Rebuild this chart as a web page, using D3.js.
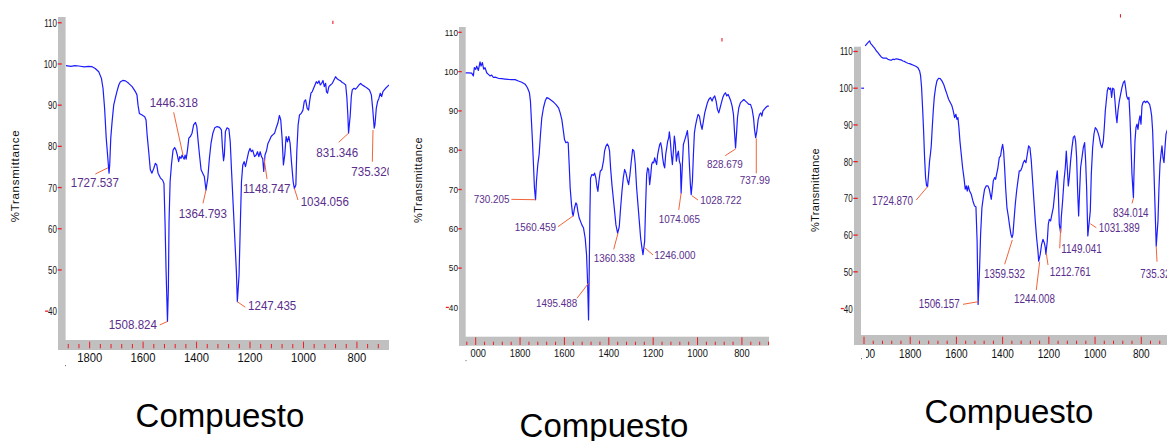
<!DOCTYPE html>
<html>
<head>
<meta charset="utf-8">
<script src="https://cdn.jsdelivr.net/npm/d3@7"></script>
<style>
  html, body { margin: 0; padding: 0; background: #ffffff; }
  svg { display: block; }
</style>
</head>
<body>
<svg id="chart" width="1167" height="441"></svg>
<script>
// ---------------------------------------------------------------
// FT-IR spectra (wavenumber cm-1, %Transmittance) of three compounds
// ---------------------------------------------------------------

const spectrumA = [
  [1888.6,99.6],[1870,99.4],[1855,99.6],[1841,99.5],[1820,99.3],[1805,99.4],[1791,99.35],[1779,98.9],
  [1766,98.1],[1756,96.5],[1750,94.1],[1744,89.2],[1738,82.0],[1727.5,73.5],[1725,75.5],[1721,82.0],
  [1716,86.0],[1710,90.0],[1704,91.7],[1698,93.3],[1691,94.9],[1685,95.7],[1676,96.0],[1666,95.9],
  [1654,95.3],[1641,94.5],[1629,93.3],[1623,92.5],[1619,90.0],[1614,88.0],[1604,87.6],[1594,87.2],
  [1589,86.4],[1585,82.8],[1579,78.7],[1573,74.3],[1567,73.5],[1560,74.7],[1554,75.9],[1549,75.5],
  [1544,73.5],[1535,72.3],[1527,71.8],[1522,71.0],[1518,61.7],[1514,49.6],[1508.8,37.5],[1505.5,45.5],
  [1503,61.7],[1499,71.4],[1494,75.5],[1488,79.1],[1482,79.7],[1477,79.1],[1472,77.9],[1467,76.3],
  [1463,77.5],[1458,77.1],[1454,77.9],[1450,77.3],[1446.3,76.9],[1443,77.9],[1439,76.9],[1434,79.1],
  [1429,82.0],[1423,82.4],[1417,83.2],[1411,85.2],[1404,85.8],[1399,84.8],[1394,81.2],[1389,77.9],
  [1383,74.3],[1377,73.5],[1371,72.7],[1364.8,69.4],[1358,72.3],[1352,77.1],[1346,80.7],[1339,83.2],
  [1332,84.5],[1323,84.8],[1314,84.6],[1307,84.0],[1303,79.5],[1299,76.5],[1296,77.9],[1292,83.6],
  [1286,84.5],[1279,84.2],[1274,81.1],[1269,73.9],[1263,65.8],[1257,57.7],[1251,49.6],[1247.4,42.3],
  [1241,48.8],[1236,61.7],[1232,71.4],[1227,75.5],[1222,76.3],[1217,75.1],[1211,76.9],[1205,78.7],
  [1200,79.5],[1195,78.7],[1190,79.1],[1183,77.5],[1177,77.9],[1172,78.7],[1167,77.5],[1162,78.7],
  [1157,77.5],[1152.5,77.0],[1148.7,73.9],[1144,77.9],[1138,79.0],[1133,80.7],[1127,81.5],[1121,82.4],
  [1115,82.8],[1108,83.2],[1102,84.5],[1096,85.6],[1090,87.5],[1085,86.4],[1080,82.0],[1075,75.5],
  [1070,77.9],[1065,82.4],[1060,81.1],[1055,82.4],[1050,80.7],[1045,76.3],[1038.5,71.4],[1034.1,69.8],
  [1028.5,70.6],[1025,78.7],[1020,85.2],[1015,87.6],[1008.5,88.0],[1002,88.8],[997,90.9],[992,91.3],
  [986,89.2],[981,88.8],[977,90.9],[972,92.9],[967,93.3],[962,94.1],[957,94.9],[952,95.7],
  [947,95.3],[942,95.9],[937,94.9],[932,95.3],[927,96.0],[922,94.5],[917,95.3],[914,93.3],
  [910,92.9],[905,94.5],[899,94.9],[892,95.3],[886,96.1],[880,96.9],[874,96.4],[867,96.1],
  [861,95.9],[855,95.5],[849,95.3],[842,94.9],[837.5,91.7],[834,87.6],[831.3,83.2],[825,87.6],
  [821,92.1],[817.5,93.7],[811,94.1],[805,93.9],[799,94.3],[792.5,94.9],[786,95.3],[780,94.9],
  [770,94.5],[761,94.1],[753,93.7],[746,92.5],[741,89.2],[735.3,84.4],[732.6,85.2],[727.6,89.2],
  [722.6,90.9],[717.6,91.7],[712.6,92.9],[707.6,92.1],[702.7,93.3],[697.7,93.7],[692.7,94.1],
  [686.4,94.5],[680.2,94.9]
];

const spectrumB = [
  [2045.1,99.7],[2033,99.7],[2018,99.6],[2010.5,98.9],[2006,101.0],[2000,100.6],[1995.5,101.4],
  [1988,100.3],[1980.4,102.5],[1975.9,101.4],[1969.9,102.3],[1963.9,100.6],[1957.9,101.0],[1950.3,99.7],
  [1942.8,99.3],[1935.3,98.9],[1927.8,99.1],[1920.2,98.5],[1912.7,98.6],[1897.7,98.3],[1882.6,98.2],
  [1867.6,98.1],[1852.5,98.0],[1837.5,97.95],[1822.4,97.95],[1807.4,97.6],[1792.3,97.3],[1777.2,96.8],
  [1766.7,95.9],[1757.7,94.6],[1753.2,92.5],[1748.7,87.4],[1744.1,82.3],[1739.6,76.35],[1735.1,70.4],
  [1730.2,67.4],[1726.1,72.1],[1720.1,76.35],[1714,78.9],[1708,84.0],[1702,88.25],[1694.5,90.8],
  [1686.9,92.5],[1679.4,93.4],[1671.9,93.2],[1659.9,92.7],[1649.3,92.25],[1638.8,91.65],[1626.7,90.8],
  [1619.2,89.5],[1611.7,87.8],[1605.7,85.3],[1599.7,82.7],[1593.6,81.9],[1587.6,82.1],[1583.1,81.9],
  [1578.6,76.35],[1574.1,70.4],[1568.1,66.15],[1563.5,63.8],[1560.5,63.3],[1554.5,65.3],[1548.5,66.6],
  [1544,66.15],[1539.5,64.45],[1533.4,62.75],[1527.4,61.9],[1521.4,61.0],[1513.9,60.2],[1506.4,57.6],
  [1500.3,53.4],[1495.5,46.2],[1491.3,36.8],[1488.3,49.1],[1485.3,63.6],[1482.3,72.9],[1476.3,73.8],
  [1468.7,73.6],[1464.2,74.2],[1458.2,72.9],[1453.7,70.8],[1449.2,69.5],[1444.6,72.1],[1438.6,74.65],
  [1431.1,75.1],[1423.6,77.4],[1419.1,79.75],[1413,81.0],[1407,81.6],[1401,81.0],[1396.5,79.75],
  [1392,75.5],[1385.9,71.25],[1379.9,67.85],[1373.9,64.45],[1367.9,61.0],[1360.3,58.9],[1355.9,59.8],
  [1352.8,60.6],[1346.8,65.3],[1340.8,69.5],[1334.8,72.9],[1328.8,75.1],[1322.7,74.2],[1316.7,72.5],
  [1310.7,71.25],[1304.7,73.8],[1298.7,77.2],[1292.6,80.2],[1286.6,79.75],[1280.6,76.35],[1274.6,70.4],
  [1268.6,66.15],[1262.5,61.9],[1256.5,57.6],[1250.5,55.1],[1246,53.4],[1238.5,56.8],[1234,66.15],
  [1229.5,73.8],[1224.9,75.5],[1220.4,75.1],[1215.9,71.25],[1211.4,73.4],[1206.9,76.35],[1202.4,77.0],
  [1197.8,76.8],[1193.3,78.05],[1188.8,77.2],[1184.3,76.35],[1179.8,78.9],[1175.2,80.2],[1170.7,81.45],
  [1166.2,81.9],[1161.7,80.6],[1157.2,78.05],[1152.7,76.35],[1148.2,75.5],[1143.6,78.9],[1139.1,80.6],
  [1134.6,82.3],[1130.1,83.15],[1127.1,84.7],[1122.6,82.3],[1118.1,78.9],[1113.5,76.35],[1109,79.75],
  [1104.5,83.6],[1100,81.45],[1095.5,77.2],[1090.9,78.9],[1086.4,79.75],[1081.9,77.2],[1077.4,76.35],
  [1074.1,69.1],[1068.4,76.35],[1063.9,81.45],[1059.4,82.3],[1054.9,83.15],[1050.4,84.0],[1045.8,85.0],
  [1041.3,82.3],[1036.8,76.35],[1032.3,71.25],[1028.7,68.7],[1023.2,72.1],[1018.7,78.9],[1014.2,84.4],
  [1009.7,86.1],[1003.7,87.8],[997.6,89.1],[991.6,88.7],[985.6,86.6],[979.6,85.3],[973.6,87.4],
  [967.6,89.5],[961.5,90.8],[955.5,92.1],[949.5,92.9],[942,93.4],[934.5,92.5],[928.4,93.4],
  [922.4,93.8],[916.4,92.5],[910.4,90.4],[904.4,89.5],[898.3,90.8],[892.3,92.1],[886.3,93.4],
  [880.3,94.2],[874.3,94.6],[868.2,93.8],[862.2,94.2],[856.2,93.4],[850.2,92.5],[844.2,91.2],
  [838.1,89.1],[833.6,84.8],[828.7,80.6],[824.6,84.0],[820.1,88.25],[814.1,90.8],[806.5,92.1],
  [799,92.5],[791.5,92.9],[783.9,92.5],[776.4,92.1],[768.9,91.65],[761.4,91.65],[753.9,90.4],
  [747.8,88.25],[743.3,85.3],[738,83.2],[732.8,84.85],[726.8,87.8],[720.7,89.1],[714.7,89.5],
  [710.2,88.7],[705.7,89.95],[699.7,90.4],[693.7,90.8],[686.1,91.2],[678.6,91.2]
];

const spectrumC = [
  [1994.7,111.5],[1986,112.2],[1975.9,112.9],[1971.6,112.2],[1965.8,111.8],[1960,111.3],[1954.2,110.9],
  [1947,110.2],[1939.8,109.7],[1932.6,109.1],[1925.4,108.5],[1918.2,108.2],[1911,108.2],[1903.7,108.2],
  [1896.5,107.9],[1889.3,107.7],[1882.1,107.6],[1874.9,107.9],[1867.7,107.8],[1860.5,108.0],[1853.2,107.9],
  [1846,107.8],[1838.8,107.7],[1831.6,107.4],[1824.4,107.3],[1817.2,107.0],[1809.9,106.8],[1802.7,106.7],
  [1795.5,106.5],[1788.3,106.3],[1781.1,106.1],[1773.9,105.9],[1766.7,105.6],[1759.4,104.7],[1755.1,103.4],
  [1750.8,100.2],[1746.5,94.7],[1742.1,88.4],[1737.8,81.1],[1733.5,75.65],[1729.1,73.4],[1724.9,73.2],
  [1720.5,76.6],[1716.2,80.2],[1711.8,82.5],[1709,84.3],[1704.6,89.3],[1700.3,93.8],[1695.9,97.5],
  [1690.2,100.2],[1684.4,102.0],[1677.2,102.7],[1670,102.6],[1662.8,102.0],[1655.5,101.1],[1648.3,99.7],
  [1641.1,98.4],[1633.9,97.0],[1626.7,96.1],[1619.5,95.2],[1613.7,93.8],[1607.9,92.0],[1602.2,92.9],
  [1597.8,91.5],[1593.5,92.0],[1589.2,89.3],[1584.8,85.6],[1579.1,82.0],[1573.3,78.4],[1567.5,75.65],
  [1561.8,72.5],[1557.4,73.4],[1553.1,72.0],[1548.8,73.4],[1543,72.0],[1535.8,71.1],[1528.6,69.3],
  [1521.4,67.9],[1515.6,67.7],[1510.5,58.4],[1506.2,41.1],[1499.7,51.1],[1495.4,60.2],[1489.6,67.5],
  [1483.8,70.2],[1478.1,72.5],[1470.8,73.4],[1463.6,73.4],[1457.9,72.5],[1453.5,71.1],[1449.2,69.75],
  [1444.9,72.0],[1440.5,74.75],[1434.8,75.65],[1430.4,75.2],[1426.1,76.6],[1420.3,78.4],[1414.6,81.1],
  [1408.8,81.6],[1404.5,83.4],[1400.1,84.7],[1395.8,82.9],[1391.5,78.4],[1387.1,72.9],[1381.4,67.5],
  [1375.6,65.2],[1369.8,62.5],[1364.1,60.2],[1359.5,59.3],[1355.4,60.2],[1351.1,63.8],[1345.3,68.4],
  [1339.5,72.0],[1333.8,74.75],[1328,77.5],[1322.2,77.5],[1316.4,78.4],[1310.7,79.7],[1304.9,80.4],
  [1299.1,79.7],[1293.4,82.0],[1287.6,84.3],[1281.8,83.8],[1276,80.2],[1270.3,74.75],[1264.5,69.3],
  [1258.7,63.8],[1253,59.3],[1247.2,55.7],[1244,52.9],[1237.1,54.8],[1231.3,57.5],[1225.5,58.85],
  [1219.8,57.95],[1215.4,56.6],[1212.8,54.8],[1206.8,58.4],[1202.4,62.9],[1198.1,64.3],[1192.3,63.85],
  [1186.6,65.7],[1180.8,67.5],[1175,71.1],[1169.3,74.75],[1163.5,77.5],[1159.2,72.0],[1154.8,62.9],
  [1149,60.7],[1146.2,64.8],[1140.4,69.3],[1134.6,74.75],[1128.8,78.4],[1124.5,82.9],[1120.2,78.4],
  [1115.8,73.4],[1111.5,75.65],[1105.8,80.2],[1100,83.8],[1094.2,86.6],[1088.4,87.0],[1084.1,85.6],
  [1079.8,81.1],[1075.4,72.0],[1071.1,65.2],[1066.8,72.0],[1062.5,78.4],[1056.7,81.1],[1050.9,83.8],
  [1045.2,85.2],[1040.8,80.2],[1036.5,72.9],[1031.4,59.75],[1026.4,62.9],[1020.6,66.6],[1016.3,76.6],
  [1010.5,83.8],[1004.8,87.5],[999,89.3],[993.2,88.8],[987.4,87.9],[981.7,86.6],[975.9,84.7],
  [970.1,83.8],[964.4,85.6],[960,89.3],[955.7,93.8],[951.4,96.5],[947,99.3],[942.7,100.2],
  [936.9,99.7],[932.6,100.0],[928.3,97.5],[923.9,100.0],[918.2,99.7],[913.8,96.5],[909.5,92.9],
  [905.2,90.6],[900.9,93.8],[895.1,96.5],[889.3,98.4],[883.5,100.2],[877.8,101.5],[872,102.0],
  [867.7,100.2],[863.3,97.9],[857.6,97.0],[853.3,97.5],[848.9,92.0],[844.6,84.7],[840.3,76.6],
  [834,70.2],[831.6,76.6],[827.3,85.6],[822.9,89.3],[818.6,90.2],[814.3,88.8],[809.9,91.1],
  [805.6,92.5],[801.3,90.2],[796.9,95.2],[792.6,96.1],[786.9,96.5],[781.1,96.1],[775.3,96.5],
  [769.6,96.1],[763.8,95.6],[759.4,94.3],[755.1,92.5],[750.8,88.4],[746.4,80.2],[742.1,71.1],
  [737.8,62.0],[735.3,57.0],[727.7,63.85],[723.4,72.9],[719,79.3],[714.7,82.0],[710.4,84.3],
  [706,81.1],[701.7,79.7],[697.4,83.8],[693,87.5],[688.7,88.4],[684,89.0]
];
// short baseline stub recorded at the start of the third scan
const stubC = [[2012,100],[2000,100]];

// picked peaks: position (cm-1), %T at the pick, printed label
const peakWnA = [1727.537, 1446.318, 1364.793, 1508.824, 1247.435, 1148.747, 1034.056, 831.346, 735.320];
const peakTA  = [73.5, 76.9, 69.4, 37.5, 42.3, 73.9, 69.8, 83.2, 84.4];
const peakLabelA = ["1727.537","1446.318","1364.793","1508.824","1247.435","1148.747","1034.056","831.346","735.320"];

const peakWnB = [1730.205, 1560.459, 1495.488, 1360.338, 1246.000, 1074.065, 1028.722, 828.679, 737.99];
const peakTB  = [67.4, 63.3, 46.2, 58.9, 53.4, 69.1, 68.7, 80.6, 83.2];
const peakLabelB = ["730.205","1560.459","1495.488","1360.338","1246.000","1074.065","1028.722","828.679","737.99"];

const peakWnC = [1724.870, 1506.157, 1359.532, 1244.008, 1212.761, 1149.041, 1031.389, 834.014, 735.320];
const peakTC  = [73.2, 41.1, 59.3, 52.9, 54.8, 60.7, 59.75, 70.2, 57.0];
const peakLabelC = ["1724.870","1506.157","1359.532","1244.008","1212.761","1149.041","1031.389","834.014","735.320"];

// cursor marks (cm-1, %T)
const cursorA = [890, 110.1];
const cursorB = [890, 108.1];
const cursorC = [890, 119.7];

// axis ticks and texts
const yTickValues = [110, 100, 90, 80, 70, 60, 50, 40];
const xTickLabelsA = [1800, 1600, 1400, 1200, 1000, 800];
const xTickLabelsBC = [2000, 1800, 1600, 1400, 1200, 1000, 800];
const titleText = "Compuesto";
const yTitleText = "%Transmittance";

// ---------------------------------------------------------------
// label placement: [tipDx, tipDy, leaderDx, leaderDy, textDx, textDy] (px, relative to the peak)
const labelLayoutA = [
  [-1,-5.4,-13.7,0.9,-38.3,14.2],[-1.2,-4.1,-10.5,-46.8,-34.5,-52.4],[0,0,-3,13.3,-27.3,27.7],
  [0,0,-7.8,3.5,-58.8,7.5],[0,0,8,5.6,10.7,8.3],[0.3,-13.2,3.3,7.5,-20.7,21.8],
  [0,0,3.6,11.6,6.3,17.3],[0,0,-9.8,9.1,-32.2,23.5],[-1.2,1.8,-1.9,33.5,-22.9,47.5]
];
const labelLayoutB = [
  [0,0,-24.2,-0.4,-61.8,3.6],[0,0,-15.2,10.8,-58.5,15.1],[1,0,-10.6,15.2,-51.6,24.2],
  [0.4,0,-3.9,16.2,-23.9,29.2],[1.7,-7.1,10,0.2,11.3,4.2],[0,0,-2.4,16.9,-22.4,30.2],
  [0.8,1.1,6.8,5.4,9.1,9.4],[0,1.1,-10.3,7.8,-28.6,20.4],[0.6,0.7,0.6,35.7,-16,46.7]
];
const labelLayoutC = [
  [0,0,-11.3,13.4,-55.6,18.4],[0,-2.8,-15.1,-0.2,-59.4,3.8],[0.3,2.3,-7.3,26.6,-28,40.6],
  [1,0.5,-2.4,28.8,-24.7,42.1],[0.4,-0.9,2.1,10.8,3.8,21.5],[0,-4.2,-0.9,15.8,0.7,20.8],
  [2.5,-12.3,8.5,-8.3,10.9,-3.7],[0,0.7,-1.4,5.7,-20.4,19.1],[0,0.6,0.8,15.6,-15.9,32.2]
];

const FONT = "'Liberation Sans', Arial, Helvetica, sans-serif";
const COLORS = {
  bar: "#c0c0c0", tick: "#ee1c24", line: "#1c1cff",
  peak: "#5a2e8c", leader: "#f2643a", text: "#111111"
};

const panels = [
  {
    id: "a", spectrum: spectrumA, stub: null, cursor: cursorA,
    peakWn: peakWnA, peakT: peakTA, peakLabel: peakLabelA, layout: labelLayoutA,
    xTicks: xTickLabelsA, minorFrom: 1880,
    xDomain: [1890, 680], xRange: [65.6, 389], yDomain: [33, 111.4], yRange: [340, 17],
    barX0: 58, barRight: 389, xBarH: 10, clipLeft: 60, clipRight: 389,
    dashX: [57.7, 61.7], yLabelRight: 57, yFont: 11.6, ySx: 0.69,
    xLabelY: 362, xFont: 12.5, xSx: 0.9, majorTick: [1.7, 8.3], minorTick: [4, 8.3],
    peakFont: 12, peakSx: 0.965,
    titleX: 220, titleY: 427, yTitleX: 15, yTitleY: 176, yTitleFont: 11.5, yTitleLs: 0.7,
    dot: [65, 365]
  },
  {
    id: "b", spectrum: spectrumB, stub: null, cursor: cursorB,
    peakWn: peakWnB, peakT: peakTB, peakLabel: peakLabelB, layout: labelLayoutB,
    xTicks: xTickLabelsBC, minorFrom: 2040,
    xDomain: [2045, 678], xRange: [465.7, 769], yDomain: [32.55, 111.35], yRange: [336.7, 27],
    barX0: 459, barRight: 769, xBarH: 9, clipLeft: 470, clipRight: 790,
    dashX: [458.3, 461.7], yLabelRight: 458, yFont: 9.8, ySx: 0.84,
    xLabelY: 357, xFont: 11.6, xSx: 0.8, majorTick: [0.6, 8.3], minorTick: [5, 8.3],
    peakFont: 11.5, peakSx: 0.86,
    titleX: 604, titleY: 436.7, yTitleX: 418, yTitleY: 180, yTitleFont: 11, yTitleLs: 0.5,
    dot: [465.5, 360]
  },
  {
    id: "c", spectrum: spectrumC, stub: stubC, cursor: cursorC,
    peakWn: peakWnC, peakT: peakTC, peakLabel: peakLabelC, layout: labelLayoutC,
    xTicks: xTickLabelsBC, minorFrom: 2000,
    xDomain: [2013, 680], xRange: [861, 1169], yDomain: [32.8, 111.3], yRange: [335, 46.7],
    barX0: 854, barRight: 1167, xBarH: 10, clipLeft: 866, clipRight: 1167,
    dashX: [853.3, 857.7], yLabelRight: 852.7, yFont: 10.7, ySx: 0.75,
    xLabelY: 358, xFont: 13, xSx: 0.77, majorTick: [1.7, 9], minorTick: [5.7, 9],
    peakFont: 12, peakSx: 0.82,
    titleX: 1009, titleY: 422.7, yTitleX: 815, yTitleY: 190, yTitleFont: 11, yTitleLs: 0.35,
    dot: [861, 358]
  }
];

const svg = d3.select("#chart");
svg.append("rect").attr("width", 1167).attr("height", 441).attr("fill", "#ffffff");
const defs = svg.append("defs");

// text squeezed horizontally, the way the instrument printout renders it
function squeezedText(parent, x, y, str, size, sx, anchor, fill, baseline) {
  return parent.append("text")
    .attr("transform", `translate(${x},${y}) scale(${sx},1)`)
    .attr("text-anchor", anchor)
    .attr("dominant-baseline", baseline || "alphabetic")
    .attr("font-family", FONT)
    .attr("font-size", size)
    .attr("fill", fill)
    .text(str);
}

function drawPanel(p) {
  const g = svg.append("g").attr("class", "panel-" + p.id);
  const x = d3.scaleLinear().domain(p.xDomain).range(p.xRange);
  const y = d3.scaleLinear().domain(p.yDomain).range(p.yRange);
  const xBarY = p.yRange[0];

  defs.append("clipPath").attr("id", "plot-" + p.id)
    .append("rect").attr("x", p.barX0).attr("y", 0)
    .attr("width", p.clipRight - p.barX0).attr("height", 441);
  defs.append("clipPath").attr("id", "xlab-" + p.id)
    .append("rect").attr("x", p.clipLeft).attr("y", 0)
    .attr("width", p.clipRight - p.clipLeft).attr("height", 441);

  // grey frame bars (left and bottom)
  g.append("rect").attr("x", p.barX0).attr("y", p.yRange[1])
    .attr("width", p.xRange[0] - p.barX0).attr("height", xBarY + p.xBarH - p.yRange[1])
    .attr("fill", COLORS.bar);
  g.append("rect").attr("x", p.barX0).attr("y", xBarY)
    .attr("width", p.barRight - p.barX0).attr("height", p.xBarH)
    .attr("fill", COLORS.bar);

  // y ticks + labels
  yTickValues.forEach((v, i) => {
    const ty = y(v);
    const lab = squeezedText(g, p.yLabelRight, ty, String(v), p.yFont, p.ySx, "end", COLORS.text, "central");
    if (i === yTickValues.length - 1) {
      const w = lab.node().getComputedTextLength() * p.ySx;
      const x1 = p.yLabelRight - w;
      g.append("line").attr("x1", x1 - 3).attr("x2", x1)
        .attr("y1", ty).attr("y2", ty)
        .attr("stroke", COLORS.tick).attr("stroke-width", 1.3);
    } else {
      g.append("line").attr("x1", p.dashX[0]).attr("x2", p.dashX[1])
        .attr("y1", ty).attr("y2", ty)
        .attr("stroke", COLORS.tick).attr("stroke-width", 1.3);
    }
  });

  // x ticks inside the bottom bar: minor every 40 cm-1, major every 200 cm-1
  const lowEnd = Math.min(p.xDomain[0], p.xDomain[1]);
  d3.range(p.minorFrom, lowEnd, -40).forEach(v => {
    const tx = x(v);
    if (tx > p.clipRight) return;
    const major = v % 200 === 0;
    const t = major ? p.majorTick : p.minorTick;
    g.append("line").attr("x1", tx).attr("x2", tx)
      .attr("y1", xBarY + t[0]).attr("y2", xBarY + t[1])
      .attr("stroke", COLORS.tick).attr("stroke-width", 1);
  });

  const xl = g.append("g").attr("clip-path", `url(#xlab-${p.id})`);
  p.xTicks.forEach(v => {
    squeezedText(xl, x(v), p.xLabelY, String(v), p.xFont, p.xSx, "middle", COLORS.text);
  });

  // small stray dot below the axis corner
  g.append("rect").attr("x", p.dot[0]).attr("y", p.dot[1]).attr("width", 1).attr("height", 1.2)
    .attr("fill", "#777");

  // spectrum
  const plot = g.append("g").attr("clip-path", `url(#plot-${p.id})`);
  const line = d3.line().x(d => x(d[0])).y(d => y(d[1]));
  plot.append("path").datum(p.spectrum)
    .attr("d", line).attr("fill", "none")
    .attr("stroke", COLORS.line).attr("stroke-width", 1.2).attr("stroke-linejoin", "round");
  if (p.stub) {
    plot.append("path").datum(p.stub)
      .attr("d", line).attr("fill", "none")
      .attr("stroke", COLORS.line).attr("stroke-width", 1.2);
  }

  // cursor mark
  g.append("line")
    .attr("x1", x(p.cursor[0])).attr("x2", x(p.cursor[0]))
    .attr("y1", y(p.cursor[1]) - 1.7).attr("y2", y(p.cursor[1]) + 1.7)
    .attr("stroke", COLORS.tick).attr("stroke-width", 1.1);

  // peak labels with leaders
  p.peakWn.forEach((wn, i) => {
    const mx = x(wn), my = y(p.peakT[i]);
    const o = p.layout[i];
    plot.append("line")
      .attr("x1", mx + o[2]).attr("y1", my + o[3])
      .attr("x2", mx + o[0]).attr("y2", my + o[1])
      .attr("stroke", COLORS.leader).attr("stroke-width", 1);
    squeezedText(plot, mx + o[4], my + o[5], p.peakLabel[i], p.peakFont, p.peakSx, "start", COLORS.peak);
  });

  // axis title
  g.append("text")
    .attr("transform", `translate(${p.yTitleX},${p.yTitleY}) rotate(-90)`)
    .attr("text-anchor", "middle").attr("dominant-baseline", "central")
    .attr("font-family", FONT).attr("font-size", p.yTitleFont)
    .attr("letter-spacing", p.yTitleLs)
    .attr("fill", COLORS.text)
    .text(yTitleText);

  // caption
  g.append("text")
    .attr("x", p.titleX).attr("y", p.titleY)
    .attr("text-anchor", "middle")
    .attr("font-family", FONT).attr("font-size", 33)
    .attr("fill", "#000000")
    .text(titleText);
}

panels.forEach(drawPanel);
</script>
</body>
</html>
